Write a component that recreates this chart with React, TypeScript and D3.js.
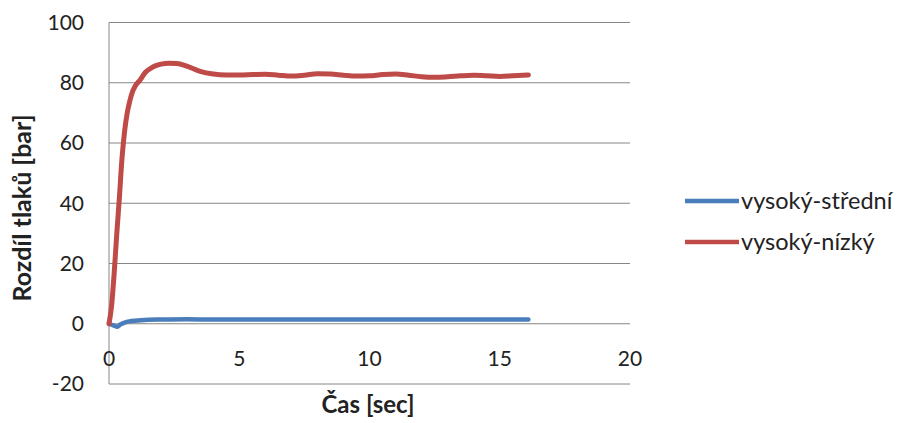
import React from "react";
import * as d3 from "d3";

const W = 906;
const H = 423;

const yTicks = [-20, 0, 20, 40, 60, 80, 100];
const xTicks = [0, 5, 10, 15, 20];

const seriesNames = ["vysoký-střední", "vysoký-nízký"];
const seriesColors = ["#4A7EBB", "#BE4B48"];

const redTime = [0, 0.1, 0.2, 0.3, 0.4, 0.5, 0.6, 0.7, 0.8, 0.9, 1.0, 1.2, 1.4, 1.6, 1.8, 2.0, 2.3, 2.6, 2.9, 3.2, 3.5, 4.0, 4.5, 5, 5.5, 6, 6.5, 7, 7.5, 8, 8.5, 9, 9.5, 10, 10.5, 11, 11.5, 12, 12.5, 13, 13.5, 14, 14.5, 15, 15.5, 16.1];
const redValues = [0, 6, 17, 30, 42, 55, 64, 70, 74, 77, 78.8, 81, 83.5, 84.8, 85.7, 86.2, 86.5, 86.4, 85.8, 84.8, 83.8, 82.9, 82.6, 82.6, 82.7, 82.8, 82.5, 82.2, 82.5, 83.0, 82.9, 82.5, 82.2, 82.3, 82.7, 82.9, 82.5, 82.0, 81.8, 82.0, 82.3, 82.5, 82.3, 82.1, 82.3, 82.6];

const blueTime = [0, 0.15, 0.3, 0.45, 0.6, 0.8, 1.0, 1.5, 2, 3, 4, 5, 6, 7, 8, 9, 10, 11, 12, 13, 14, 15, 16.1];
const blueValues = [0, -0.5, -1.0, -0.2, 0.4, 0.8, 1.0, 1.3, 1.4, 1.5, 1.4, 1.4, 1.4, 1.4, 1.4, 1.4, 1.4, 1.4, 1.4, 1.4, 1.4, 1.4, 1.4];

const FONT = "Lato, 'Open Sans', sans-serif";

export default function App() {
  const left = 109;
  const right = 630;
  const top = 22.5;
  const bottom = 384;

  const x = d3.scaleLinear().domain([0, 20]).range([left, right]);
  const y = d3.scaleLinear().domain([-20, 100]).range([bottom, top]);

  const line = d3
    .line<[number, number]>()
    .x((d) => x(d[0]))
    .y((d) => y(d[1]))
    .curve(d3.curveMonotoneX);

  const blueData: [number, number][] = blueTime.map((t, i) => [t, blueValues[i]]);
  const redData: [number, number][] = redTime.map((t, i) => [t, redValues[i]]);

  return (
    <svg
      width={W}
      height={H}
      style={{ position: "absolute", left: 0, top: 0, background: "#fff" }}
      fontFamily={FONT}
    >
      {yTicks.map((v) => (
        <line key={"g" + v} x1={left} x2={right} y1={y(v)} y2={y(v)} stroke="#868686" strokeWidth={1} />
      ))}
      <line x1={left} x2={left} y1={top} y2={bottom} stroke="#868686" strokeWidth={1} />
      {yTicks.map((v) => (
        <text key={"yl" + v} x={84} y={y(v)} dy="0.35em" textAnchor="end" fontSize={21} fill="#222">
          {v}
        </text>
      ))}
      {xTicks.map((v) => (
        <text key={"xl" + v} x={x(v)} y={359} dy="0.35em" textAnchor="middle" fontSize={21} fill="#222">
          {v}
        </text>
      ))}
      <text x={368} y={413} textAnchor="middle" fontSize={24} fontWeight="bold" fill="#222">
        Čas [sec]
      </text>
      <text
        transform={`translate(31, 208) rotate(-90)`}
        textAnchor="middle"
        fontSize={25}
        fontWeight="bold"
        fill="#222"
      >
        Rozdíl tlaků [bar]
      </text>
      <path d={line(blueData) || ""} fill="none" stroke={seriesColors[0]} strokeWidth={4.5} strokeLinecap="round" strokeLinejoin="round" />
      <path d={line(redData) || ""} fill="none" stroke={seriesColors[1]} strokeWidth={5} strokeLinecap="round" strokeLinejoin="round" />
      {seriesNames.map((name, i) => (
        <g key={name} transform={`translate(685, ${201 + i * 41})`}>
          <line x1={0} x2={54} y1={0} y2={0} stroke={seriesColors[i]} strokeWidth={4.5} />
          <text x={56} y={0} dy="0.35em" fontSize={23.5} fill="#222">
            {name}
          </text>
        </g>
      ))}
    </svg>
  );
}
